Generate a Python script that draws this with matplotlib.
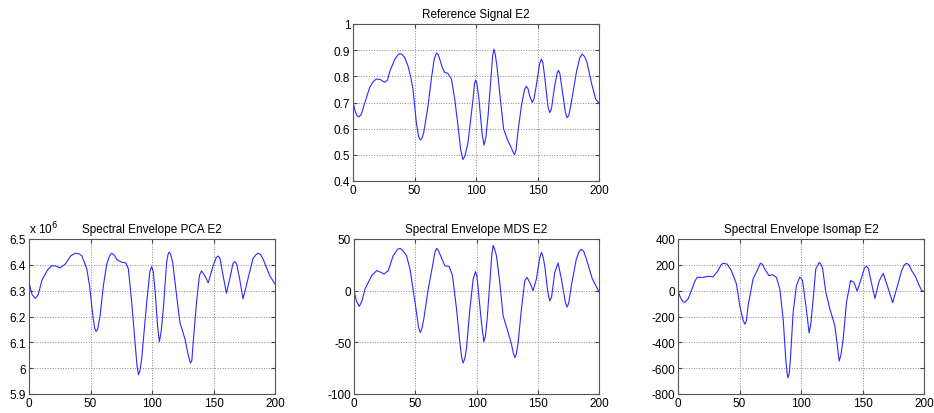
import matplotlib
matplotlib.use("Agg")
import matplotlib.pyplot as plt
from matplotlib.ticker import FuncFormatter

plt.rcParams['font.family'] = ['Liberation Sans', 'DejaVu Sans']

# reference signal
ref_x = [0, 1.5, 3.2, 4.9, 6.8, 9, 13.5, 16.5, 19, 22.5, 25.7, 28, 30, 34, 36.5, 38, 39.8,
         42, 44.7, 46.8, 48.8, 51.5, 53.3, 54.7, 56, 57.5, 61, 63.7, 66, 67.8, 69.2, 70.5,
         72.5, 74.5, 77, 80, 82.7, 85.4, 87.5, 89.4, 91, 93.5, 97.6, 98.8, 99.7, 100.8, 102.4,
         105, 106.5, 108, 109.8, 112.5, 113.6, 114.6, 115.6, 117, 119.8, 122.5, 126, 128.7,
         130.2, 131.4, 132.6, 134, 136.9, 139.5, 140.9, 142.3, 143.6, 145.8, 147.2, 149,
         151.6, 153.1, 154.4, 155.8, 158.5, 159.9, 161.3, 164, 165.8, 167, 168.2, 170, 172.6,
         174, 175.4, 177.5, 181.6, 184.3, 186.4, 188.4, 190.2, 193.8, 197.3, 200]
ref_y = [0.706, 0.67, 0.65, 0.645, 0.655, 0.69, 0.757, 0.78, 0.79, 0.787, 0.777, 0.785, 0.82,
         0.865, 0.882, 0.887, 0.884, 0.872, 0.84, 0.8, 0.75, 0.623, 0.57, 0.557, 0.562, 0.585,
         0.687, 0.79, 0.865, 0.889, 0.884, 0.866, 0.835, 0.815, 0.812, 0.79, 0.713, 0.61, 0.52,
         0.482, 0.495, 0.547, 0.713, 0.77, 0.786, 0.77, 0.713, 0.58, 0.537, 0.565, 0.65, 0.815,
         0.88, 0.904, 0.885, 0.84, 0.713, 0.598, 0.553, 0.527, 0.51, 0.501, 0.52, 0.585, 0.687,
         0.75, 0.762, 0.752, 0.725, 0.70, 0.715, 0.764, 0.845, 0.866, 0.852, 0.80, 0.685,
         0.661, 0.675, 0.764, 0.81, 0.823, 0.81, 0.75, 0.665, 0.642, 0.65, 0.70, 0.815, 0.87,
         0.885, 0.875, 0.853, 0.776, 0.713, 0.697]

# PCA envelope (x 10^6)
pca_x = [0, 2.5, 5.1, 7.5, 10.5, 15, 18.6, 22, 25.4, 29.5, 34, 37.6, 40.5, 43, 47, 49.2, 51.9,
         53.4, 54.6, 55.9, 57.8, 60.5, 63.2, 65.5, 67.3, 69.3, 71.4, 75.4, 78.9, 80.8, 83.5,
         86.2, 87.8, 89, 90.2, 91.6, 95.7, 98.3, 99.7, 101, 102.4, 104.6, 106, 107.4, 109.2,
         111.9, 113, 114, 115.2, 116.8, 120, 122.7, 126.8, 129.5, 131.2, 132.4, 133.5, 136.2,
         138.6, 140.3, 143, 145.7, 149.7, 152.2, 153.8, 155.3, 157.3, 160.5, 163.8, 165.8,
         167.3, 168.9, 170.8, 174, 178, 182, 184.2, 186.2, 188.2, 190.3, 195.7, 200]
pca_y = [6.332, 6.285, 6.27, 6.285, 6.34, 6.38, 6.397, 6.395, 6.388, 6.403, 6.435, 6.445,
         6.443, 6.435, 6.384, 6.32, 6.203, 6.155, 6.142, 6.152, 6.203, 6.32, 6.403, 6.435,
         6.445, 6.438, 6.42, 6.41, 6.407, 6.384, 6.255, 6.1, 6.01, 5.975, 5.99, 6.035, 6.255,
         6.375, 6.393, 6.375, 6.306, 6.16, 6.102, 6.14, 6.229, 6.41, 6.44, 6.449, 6.44, 6.41,
         6.281, 6.177, 6.113, 6.05, 6.02, 6.03, 6.1, 6.255, 6.36, 6.377, 6.358, 6.33, 6.397,
         6.428, 6.434, 6.425, 6.371, 6.29, 6.358, 6.405, 6.413, 6.402, 6.358, 6.268, 6.345,
         6.423, 6.438, 6.445, 6.44, 6.423, 6.358, 6.326]

# MDS envelope
mds_x = [0, 2, 4.3, 6.5, 9, 14.4, 18.5, 21.5, 24.5, 28, 32, 35.5, 37.5, 39.8, 42.9, 45.7,
         48.4, 51, 52.6, 54, 55.4, 57, 60.6, 64.1, 66, 67.4, 68.8, 70.6, 74.2, 77.7, 80.4,
         83.7, 86.4, 87.8, 89.1, 90.4, 91.8, 94.6, 97.3, 99.2, 100.3, 101.4, 104, 106, 107.3,
         108.7, 110.9, 112.5, 113.6, 114.8, 116.3, 119, 121.7, 125.8, 128.5, 130, 131.3,
         132.6, 134, 136.7, 139.4, 141.3, 144, 146.2, 148.9, 151.5, 153, 154.3, 155.7, 158.3,
         159.8, 161.3, 163.9, 166.6, 169.3, 172.5, 173.9, 175.3, 177.4, 181.5, 183.8, 185.6,
         187.5, 189.7, 194.6, 200]
mds_y = [0, -10, -15.2, -10, 1.6, 14.5, 19.4, 18, 16.1, 19.4, 33.9, 40, 41, 39, 33.9, 21, 0,
         -21, -35, -40.5, -37, -27.4, 1.6, 24, 37, 41, 39, 34, 24, 23.5, 14.5, -17.7, -50,
         -64, -70, -66, -56, -17.7, 11.3, 18.4, 14, 1.6, -30.6, -49.4, -44, -27.4, 8, 35,
         43.8, 40, 33.9, 8, -24.2, -40.3, -51.6, -60, -64.8, -61, -50, -17.7, 9.7, 12.9, 6.5,
         0, 11.3, 31, 37, 33, 24, -2, -10, -6, 17.7, 26.8, 11.3, -11, -16, -12, 4.8, 30.6, 38,
         40, 38, 30.6, 11.3, -1]

# Isomap envelope
iso_x = [0, 2, 4, 5.4, 8.1, 10.9, 13.5, 15.5, 20.4, 24.4, 28.5, 32.6, 35, 36.6, 39.9, 43.4,
         47.5, 50.2, 52.8, 54.3, 55.6, 57, 61, 64.3, 67, 68.6, 70.5, 74, 76.8, 80, 82.8, 85.5,
         87.6, 88.7, 89.5, 90.4, 91.4, 93.6, 96.3, 99, 100.2, 101.2, 104, 106.6, 107.8, 109.4,
         112, 114.8, 116.2, 117.6, 120.2, 123.5, 127.5, 129.5, 131, 132.4, 134.3, 137, 140.3,
         143, 145.7, 149.3, 151.6, 153.3, 154.8, 156.6, 160.1, 163.6, 166.9, 171, 174.5,
         177.7, 181.8, 184, 185.9, 187.8, 190, 192.7, 196.2, 198.1, 200]
iso_y = [0, -55, -85, -90, -65, 0, 70, 103, 103, 111, 108, 155, 200, 212, 206, 155, 52, -116,
         -225, -260, -235, -116, 90, 155, 212, 205, 168, 116, 124, 103, 13, -219, -529, -640,
         -675, -640, -529, -168, 39, 105, 95, 77, -116, -328, -270, -116, 168, 219, 205, 168,
         -13, -142, -271, -420, -545, -500, -374, -90, 78, 65, -3, 103, 175, 190, 170, 90, -60,
         77, 134, 13, -93, 13, 155, 200, 212, 200, 155, 116, 39, 0, -5]

titles = ['Reference Signal E2', 'Spectral Envelope PCA E2',
          'Spectral Envelope MDS E2', 'Spectral Envelope Isomap E2']

fig = plt.figure(figsize=(9.34, 4.14), dpi=100)
W, H = 934, 414

def make_ax(x0, y0, x1, y1):
    return fig.add_axes([x0 / W, 1 - y1 / H, (x1 - x0) / W, (y1 - y0) / H])

axes = [make_ax(353, 25, 599, 182), make_ax(29, 240, 275, 395),
        make_ax(354, 240, 599, 395), make_ax(678, 240, 924, 395)]
data = [(ref_x, ref_y), (pca_x, pca_y), (mds_x, mds_y), (iso_x, iso_y)]
ylims = [(0.4, 1), (5.9, 6.5), (-100, 50), (-800, 400)]
ysteps = [0.1, 0.1, 50, 200]

for ax, (xs, ys), title, yl, st in zip(axes, data, titles, ylims, ysteps):
    ax.plot(xs, ys, color='#2a2aff', lw=0.8)
    ax.set_xlim(0, 200)
    ax.set_ylim(*yl)
    ax.set_xticks(range(0, 201, 50))
    n = int(round((yl[1] - yl[0]) / st))
    ax.set_yticks([yl[0] + i * st for i in range(n + 1)])
    ax.yaxis.set_major_formatter(FuncFormatter(lambda v, p: '%g' % round(v, 6)))
    ax.grid(True, linestyle=':', color='#888888', lw=0.7)
    ax.tick_params(direction='in', length=3, labelsize=8.5, top=True, right=True,
                   color='#444444', pad=2)
    for s in ax.spines.values():
        s.set_color('#555555')
        s.set_linewidth(0.8)
    ax.set_title(title, fontsize=8.5, pad=5)

axes[1].text(0, 1.015, 'x 10$^{6}$', transform=axes[1].transAxes, fontsize=8.5,
             ha='left', va='bottom')

fig.savefig('out.png', dpi=100)
